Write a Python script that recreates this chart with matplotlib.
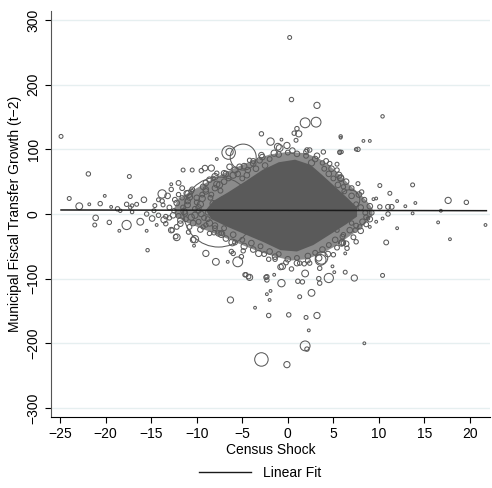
import numpy as np
import matplotlib
matplotlib.use("Agg")
import matplotlib.pyplot as plt
from matplotlib.lines import Line2D

plt.rcParams['font.family'] = ['Liberation Sans', 'DejaVu Sans']

# scattered municipalities: census shock, transfer growth (t-2), population weight
shock = [
    -24.9, -24.0, -22.9, -21.9, -21.8, -21.1, -21.2, -20.6, -20.1, -19.6, -19.4, -18.7, -18.4,
    -17.7, -18.5, -17.4, -17.3, -17.7, -17.3, -17.1, -16.6, -17.1, -16.2, -15.8, -15.5, -15.5,
    -14.9, -14.6, -14.7, -13.8, -14.2, -13.7, -13.6, -13.4, -14.4, -12.8, -13.0, -12.8, -12.2,
    -15.4, -11.5, -10.5, -10.9, -10.2, -10.3, -9.1, -8.4, -7.8, -6.5, -6.4, -4.9, -7.6, 6.8,
    0.2, 0.4, 3.2, 1.9, 3.1, 10.4, 5.8, 8.3, 9.0, 7.7, -1.9, -2.9, 1.0, 0.7, 1.2, 0.9, -1.1,
    -0.1, -0.7, 5.7, 5.9, 2.6, 2.4, 3.8, 5.4, 5.8, 10.1, 13.7, 11.2, 17.6, 19.6, 14.0, 12.9,
    12.0, 11.0, 11.4, 10.1, 9.4, 9.7, 13.7, 16.8, 16.5, 12.0, 11.0, 21.7, 17.8, 10.8, 9.0,
    9.7, 10.4, 8.8, 6.5,
    6.3, 7.3, 10.4, 4.5, 3.4, 3.5, 2.6, 1.3, 3.2, 2.0, 2.3, 0.1, -2.1, -3.6, 1.9, 2.1, -2.9,
    -0.1, 8.4, -0.7, 1.1, 1.6, 1.9, -1.5, -2.3, -2.4, -1.9, -2.3, -2.0, -4.2, -4.6, 3.6, 4.9,
    5.1, 6.3, 6.0, -9.0, -7.9, -6.6, -5.5, -6.0, -4.9, -4.7, -6.3, -3.2, -2.1, -0.8, 0.4, 3.5,
    -6.1, -7.3, -9.0, -8.1, 2.4, 3.7, 1.8, -1.4, 5.0, 5.9, 7.5,
    -0.9, 2.1, 3.9, 5.7, 7.5, 5.8, 4.6, 5.4, 5.8, 6.1, 7.7, 8.1, 7.9, 7.4, 6.1, 6.1, 7.0, 5.4,
    1.3, -0.6, -2.3, -4.3, -5.1, -6.2, -10.4, -12.3, -12.7, -7.3, -8.6, -9.3, -11.3, -12.2,
    -11.1, -9.3, -8.6, -8.2, -7.8, -6.4, -5.3, -4.4, -3.8, -3.1, -4.2, -2.9, -9.5, -7.0,
    -11.8, -11.5, -11.0, -10.6, -10.2, -10.0, -9.8, -9.6, -9.4, -10.8, -11.6, -12.5, -12.0,
    -10.5, -9.0, -8.5, -8.0, -7.5, -7.0, -6.5, -6.0, -5.5, -5.0, -4.5, -3.5, -2.5, -2.0, -1.0,
    0.0, 1.0, 2.0, 3.0, 4.0, 4.5, 5.0, 5.5, 6.2, 7.0, 7.5, 8.0, 8.5, 8.6, 8.2, 7.5, 6.8, 6.0,
    5.2, 4.5, 3.8, 3.0, 2.2, 1.0, 0.0, -1.0, -2.0, -3.0, -4.0, -5.0, -6.0, -7.0, -8.0, -8.8,
    -9.5, -9.8,
    -13.0, -12.6, -12.4, -12.0, -11.8, -11.4, -11.2, -11.0, -10.8, -10.6, -10.4, -10.2, -10.0,
    -9.8, -9.6, -9.4, -9.2, -9.0, -8.8, -8.6, -8.4, -8.2, -8.0, -7.8, -7.6, -7.4, -7.2, -12.8,
    -13.4, -12.2, -11.6, -10.9, -13.8, -14.2, -13.2, -12.0, -9.0, -8.0, -6.8, -5.8, -4.8, -3.8,
    -2.8, -1.5, 0.5, 2.0, 3.2, 4.2, 4.8, 5.6, 6.4, 7.0, 7.8, 8.4, 9.0, 9.2, 9.0, 8.6, 8.0, 7.2,
    6.4, 5.4, 4.4, 3.4, 2.2, 1.0, -0.2, -1.4, -2.6, -3.8, -4.8, -5.8, -6.8,
]
growth = [
    120, 24, 12, 62, 15, -6, -17, 16, 28, -13, 11, 8, 5,
    -17, -26, 58, 27, 15, 10, 13, 15, 3, -12, 22, -26, 0,
    -7, 13, 5, 31, 22, 14, -9, -15, -17, 46, -6, -25, -36,
    -56, 68, 68, 31, -39, -49, 71, 71, 85, 95, 96, 88, 3, 22,
    273, 177, 168, 141, 142, 151, 118, 113, 113, 100, 112, 124, 132, 125, 124, 114, 104,
    106, 115, 95, 96, 79, 99, 79, 77, 56, 44, 45, 32, 21, 18, 17, 12,
    20, 11, 11, 11, 23, 24, 1, 5, -13, -22, 0, -17, -39, -44, -20,
    -12, -7, -7, -53,
    -90, -99, -95, -99, -100, -107, -122, -128, -157, -160, -180, -156, -157, -145, -204, -209, -225,
    -233, -200, -107, -104, -105, -92, -94, -102, -98, -119, -124, -133, -98, -94, -71, -81,
    -90, -61, -44, -61, -74, -74, -74, -61, -57, -94, -133, -61, -70, -82, -85, -84,
    -44, -31, -17, -29, -76, -68, -77, -70, -63, -45, -43,
    102, 99, 96, 96, 100, 120, 78, 68, 55, 42, 47, 34, -20, -25, -32, -45, -14, -25,
    -76, -81, -97, -97, -66, -58, -40, -35, -25, -30, -30, -20, 1, 17,
    32, 42, 53, 55, 63, 73, 73, 68, 78, 83, 83, 91, 67, 63,
    -10, 10, 20, -5, 8, 25, -12, 15, 30, -20, 25, 5, -3,
    38, 35, 25, 40, 45, 50, 55, 60, 62, 55, 60, 70, 75, 85, 92,
    95, 93, 90, 85, 70, 62, 55, 45, 35, 28, 15, 10, 2, -5, -12, -18, -25, -35,
    -40, -48, -55, -60, -65, -68, -70, -62, -58, -50, -45, -40, -32, -22, -18, -8,
    0, 5,
    10, -2, 22, 30, -15, 4, -8, 14, 26, 35, -14, -2, 18,
    10, -24, 24, -6, 38, 2, -14, 30, 16, -22, 46, -30, 36, 22, 38,
    -4, -20, 40, -28, 20, -2, 28, 48, 48, 58, 62, 68, 74, 82,
    88, 94, 98, 96, 90, 82, 70, 60, 50, 40, 30, 22, 12, 2, -8, -16, -26, -36,
    -46, -52, -62, -68, -72, -76, -75, -66, -62, -55, -50, -44, -38,
]
population = [
    4, 4, 12, 5, 2, 8, 4, 5, 2, 5, 2, 5, 3,
    22, 2, 4, 4, 5, 3, 3, 4, 3, 12, 8, 2, 5,
    8, 4, 4, 18, 4, 4, 10, 5, 2, 2, 5, 8, 12,
    3, 4, 4, 14, 14, 2, 8, 10, 2, 47, 14, 175, 1270, 104,
    4, 5, 10, 25, 25, 3, 2, 2, 2, 5, 14, 5, 5, 5, 10, 4, 12,
    10, 2, 4, 3, 10, 5, 5, 4, 10, 4, 4, 4, 10, 5, 2, 2,
    2, 6, 6, 5, 2, 2, 2, 2, 2, 2, 5, 2, 2, 6, 2,
    2, 2, 3, 5,
    4, 10, 4, 22, 5, 5, 12, 4, 10, 4, 2, 5, 5, 2, 25, 5, 47,
    10, 2, 14, 5, 5, 12, 2, 5, 5, 2, 2, 2, 10, 5, 30, 2,
    2, 2, 10, 10, 12, 2, 25, 5, 5, 5, 10, 10, 5, 8, 5, 5,
    12, 12, 5, 5, 5, 40, 5, 5, 5, 10, 5,
    12, 5, 5, 4, 3, 3, 5, 5, 10, 5, 4, 5, 5, 5, 5, 5, 5, 5,
    5, 10, 5, 5, 5, 5, 8, 5, 5, 5, 5, 5, 8, 8,
    8, 8, 8, 5, 5, 8, 8, 8, 8, 8, 5, 8, 5, 8,
    8, 6, 8, 10, 6, 8, 6, 10, 6, 6, 5, 5, 6,
    6, 8, 6, 8, 10, 8, 6, 10, 8, 6, 8, 8, 8, 6, 8,
    6, 8, 6, 8, 6, 8, 6, 8, 6, 8, 6, 8, 6, 6, 8, 6, 8, 6,
    8, 6, 8, 6, 8, 6, 8, 6, 8, 6, 8, 6, 8, 6, 8, 6,
    8, 6,
    6, 8, 6, 5, 8, 10, 6, 8, 10, 6, 8, 10, 6,
    8, 8, 10, 6, 8, 6, 10, 6, 10, 6, 10, 8, 6, 8, 5,
    5, 6, 6, 5, 5, 5, 8, 6, 8, 10, 8, 10, 8, 6,
    8, 10, 8, 6, 8, 6, 8, 10, 8, 6, 8, 6, 8, 6, 8, 6, 8, 6,
    8, 6, 8, 10, 6, 8, 6, 8, 6, 8, 10, 6, 8,
]

# outline of the saturated centre of the cloud (thousands of overlapping markers)
core_shock = [-9.0, -8.2, -6.5, -4.5, -2.8, -1.0, 0.8, 2.5, 3.8, 5.2, 6.6, 7.6, 7.6, 6.4,
              4.6, 2.8, 1.0, -0.8, -2.6, -4.6, -6.6, -8.4]
core_growth = [6, 20, 34, 52, 68, 80, 84, 76, 60, 42, 24, 10, -4, -16,
               -32, -48, -58, -56, -44, -32, -20, -8]

# outline of the crowded (but not saturated) ring zone around it
crowd_shock = [-12.5, -12.0, -10.0, -8.0, -6.0, -4.0, -2.0, 0.0, 2.0, 3.5, 4.8, 6.0, 7.0,
               8.0, 8.8, 9.3, 9.3, 8.7, 7.8, 6.6, 5.2, 3.6, 2.0, 0.4, -1.4, -3.2, -5.0,
               -7.0, -9.0, -11.0, -12.3]
crowd_growth = [8, 24, 40, 56, 70, 82, 92, 96, 94, 85, 72, 56, 42,
                30, 18, 8, -2, -12, -24, -36, -50, -62, -70, -72, -66, -58, -48,
                -36, -25, -14, -4]

# linear fit (weighted OLS, as reported)
fit_shock = [-24.9, 21.8]
fit_growth = [6.2, 5.1]

gray = '#5a5a5a'

fig = plt.figure(figsize=(4.92, 4.88), dpi=100)
ax = fig.add_axes([0.1037, 0.1455, 0.8923, 0.832])

for v in [-300, -200, -100, 0, 100, 200, 300]:
    ax.axhline(v, color='#e6eff0', lw=1.0, zorder=0)

ax.fill(crowd_shock, crowd_growth, color=gray, alpha=0.7, lw=0, zorder=1)
ax.fill(core_shock, core_growth, color=gray, lw=0, zorder=1)
ax.scatter(shock, growth, s=np.array(population) * 2.0, facecolors='none',
           edgecolors=gray, linewidths=0.75, zorder=2)
ax.plot(fit_shock, fit_growth, color='#1a1a1a', lw=1.1, zorder=3)

ax.set_xlim(-26.0, 22.2)
ax.set_ylim(-314, 314)
ax.set_xticks(range(-25, 21, 5))
ax.set_xticklabels([str(t).replace('-', '\u2212') for t in range(-25, 21, 5)])
ax.set_yticks(range(-300, 301, 100))
ax.set_yticklabels([str(t).replace('-', '\u2212') for t in range(-300, 301, 100)],
                   rotation=90, va='center')
ax.tick_params(direction='out', length=4, width=0.8, labelsize=10, colors='black')
for side in ['top', 'right']:
    ax.spines[side].set_visible(False)
for side in ['left', 'bottom']:
    ax.spines[side].set_linewidth(0.8)
ax.spines['left'].set_color('#555555')

ax.set_xlabel('Census Shock', fontsize=10, labelpad=1)
ax.set_ylabel('Municipal Fiscal Transfer Growth (t\u22122)', fontsize=10, labelpad=3)

fig.legend(handles=[Line2D([], [], color='#1a1a1a', lw=1.0)], labels=['Linear Fit'],
           loc='center', bbox_to_anchor=(0.528, 0.031), frameon=False,
           handlelength=3.8, fontsize=10)

fig.savefig('out.png', dpi=100)
